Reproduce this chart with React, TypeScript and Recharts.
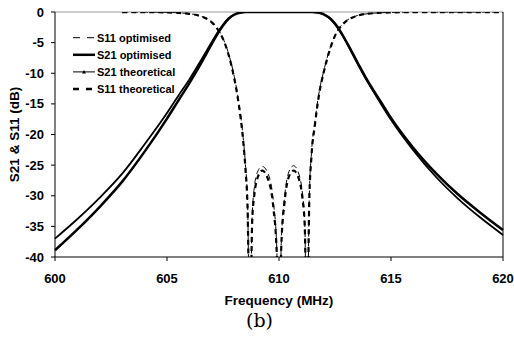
import { CartesianGrid, Legend, Line, LineChart, ReferenceLine, XAxis, YAxis } from "recharts";

const freqS21 = [600, 601, 602, 603, 604, 605, 605.5, 606, 606.5, 607, 607.25, 607.5, 607.75, 608, 608.25, 608.5, 609, 610, 611, 611.5, 611.75, 612, 612.25, 612.5, 612.75, 613, 613.5, 614, 614.5, 615, 616, 617, 618, 619, 620];
const s21Theo = [-37.0, -33.8, -30.3, -26.4, -21.6, -16.5, -13.7, -11.0, -8.0, -4.9, -3.4, -2.1, -1.05, -0.42, -0.12, -0.02, -0.01, -0.01, -0.01, -0.02, -0.11, -0.4, -1.0, -2.0, -3.3, -4.9, -8.4, -11.7, -14.7, -17.6, -22.6, -26.9, -30.5, -33.6, -36.4];
const s21Opt = [-38.9, -35.5, -31.8, -27.7, -22.8, -17.4, -14.5, -11.6, -8.5, -5.2, -3.6, -2.2, -1.1, -0.45, -0.13, -0.02, -0.01, -0.01, -0.01, -0.02, -0.1, -0.37, -0.95, -1.9, -3.2, -4.8, -8.2, -11.5, -14.4, -17.3, -22.2, -26.3, -29.8, -32.8, -35.6];

const freqS11 = [603, 604, 605, 605.5, 606, 606.5, 607, 607.25, 607.5, 607.75, 608, 608.2, 608.4, 608.5, 608.6, 608.7, 608.8, 608.9, 609, 609.25, 609.5, 609.75, 609.9, 610, 610.1, 610.25, 610.45, 610.65, 610.9, 611.05, 611.15, 611.25, 611.35, 611.45, 611.6, 611.8, 612, 612.25, 612.5, 612.75, 613, 613.5, 614, 615, 616, 617, 618, 619, 620];
const s11Theo = [-0.01, -0.02, -0.07, -0.14, -0.3, -0.68, -1.7, -2.75, -4.4, -7.0, -10.8, -15.0, -21.0, -25.5, -32.5, -55, -34.5, -29.8, -27.6, -25.9, -27.2, -32.0, -39.5, -60, -38.5, -31.0, -26.8, -25.9, -27.4, -30.5, -35.0, -55, -31.0, -23.5, -18.5, -13.2, -9.8, -6.4, -3.9, -2.4, -1.5, -0.6, -0.27, -0.07, -0.02, -0.01, -0.01, -0.01, -0.01];
const s11Opt = [-0.01, -0.02, -0.06, -0.13, -0.28, -0.65, -1.6, -2.65, -4.3, -6.8, -10.5, -14.6, -20.5, -24.8, -31.5, -55, -33.5, -28.6, -26.5, -25.2, -26.3, -31.0, -38.5, -60, -37.8, -30.2, -26.0, -25.1, -26.6, -29.8, -34.5, -55, -30.5, -23.0, -18.0, -12.9, -9.6, -6.2, -3.8, -2.35, -1.45, -0.58, -0.26, -0.07, -0.02, -0.01, -0.01, -0.01, -0.01];

const xTicks = [600, 605, 610, 615, 620];
const yTicks = [0, -5, -10, -15, -20, -25, -30, -35, -40];

const zip = (xs: number[], ys: number[]) => xs.map((f, i) => ({ f, v: ys[i] }));

const font = "'Liberation Sans', Arial, sans-serif";
const tickStyle = { fontSize: 13, fontWeight: 700, fill: "#000", fontFamily: font };

function LegendBox() {
  const rows = [
    { label: "S11 optimised", w: 1, dash: "7 7" },
    { label: "S21 optimised", w: 2.5, dash: undefined },
    { label: "S21 theoretical", w: 1, dash: undefined, marker: true },
    { label: "S11 theoretical", w: 2.5, dash: "6 7" },
  ];
  return (
    <svg width={130} height={76}>
      {rows.map((r, i) => {
        const y = 11.7 + i * 17.1;
        return (
          <g key={r.label}>
            <line x1={3} x2={25} y1={y} y2={y} stroke="#000" strokeWidth={r.w} strokeDasharray={r.dash} />
            {r.marker && <polygon points={`${14},${y - 2} ${12},${y + 1.5} ${16},${y + 1.5}`} fill="#000" />}
            <text x={27} y={y} dy="0.36em" fontSize={11} fontWeight={700} fontFamily={font}>
              {r.label}
            </text>
          </g>
        );
      })}
    </svg>
  );
}

export default function App() {
  return (
    <div style={{ position: "absolute", left: 0, top: 0, width: 514, height: 344, background: "#fff" }}>
      <LineChart width={514} height={310} margin={{ top: 12, right: 11, left: 0, bottom: 0 }}>
        <CartesianGrid stroke="none" />
        <XAxis
          dataKey="f"
          type="number"
          domain={[600, 620]}
          ticks={xTicks}
          height={53}
          tick={tickStyle}
          tickSize={4}
          tickMargin={13}
          axisLine={{ stroke: "#000" }}
          tickLine={{ stroke: "#000" }}
          label={{ value: "Frequency (MHz)", position: "insideBottom", offset: 5, style: { ...tickStyle, fontSize: 13.5 } }}
        />
        <YAxis
          type="number"
          domain={[-40, 0]}
          ticks={yTicks}
          allowDataOverflow
          width={55}
          tick={tickStyle}
          tickSize={4}
          tickMargin={7}
          axisLine={{ stroke: "#000" }}
          tickLine={{ stroke: "#000" }}
          label={{ value: "S21 & S11 (dB)", angle: -90, position: "insideLeft", offset: 14, style: { ...tickStyle, fontSize: 13.5, textAnchor: "middle" } }}
        />
        <ReferenceLine y={0} stroke="#999" strokeWidth={1} />
        <ReferenceLine x={620} stroke="#000" strokeWidth={1} />
        <Legend
          layout="vertical"
          align="center"
          verticalAlign="middle"
          content={() => <LegendBox />}
          wrapperStyle={{ left: 70, top: 26, width: 130, height: 76 }}
        />
        <Line data={zip(freqS11, s11Opt)} dataKey="v" type="monotone" stroke="#000" strokeWidth={1} strokeDasharray="6 4" dot={false} isAnimationActive={false} />
        <Line data={zip(freqS11, s11Theo)} dataKey="v" type="monotone" stroke="#000" strokeWidth={2.2} strokeDasharray="5 4" dot={false} isAnimationActive={false} />
        <Line data={zip(freqS21, s21Theo)} dataKey="v" type="monotone" stroke="#000" strokeWidth={1.8} dot={false} isAnimationActive={false} />
        <Line data={zip(freqS21, s21Opt)} dataKey="v" type="monotone" stroke="#000" strokeWidth={2.5} dot={false} isAnimationActive={false} />
      </LineChart>
      <div
        style={{
          position: "absolute",
          left: 0,
          top: 311,
          width: 519,
          textAlign: "center",
          fontFamily: "'DejaVu Serif', serif",
          fontSize: 19,
          lineHeight: "19px",
        }}
      >
        (b)
      </div>
    </div>
  );
}
